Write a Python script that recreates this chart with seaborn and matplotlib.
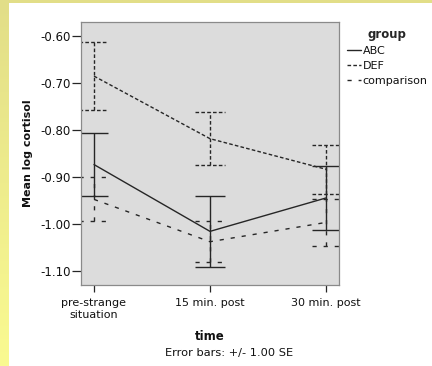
import numpy as np
import pandas as pd
import matplotlib
matplotlib.use("Agg")
import matplotlib.pyplot as plt
from matplotlib.lines import Line2D
import seaborn as sns

# ---- data ----
times = ["pre-strange\nsituation", "15 min. post", "30 min. post"]
groups = ["ABC", "DEF", "comparison"]
abc_mean = [-0.873, -1.015, -0.944]
abc_se = [0.067, 0.076, 0.068]
def_mean = [-0.685, -0.818, -0.883]
def_se = [0.072, 0.057, 0.052]
cmp_mean = [-0.947, -1.037, -0.996]
cmp_se = [0.047, 0.043, 0.050]
yticks = [-0.60, -0.70, -0.80, -0.90, -1.00, -1.10]
ytick_labels = ["-0.60", "-0.70", "-0.80", "-0.90", "-1.00", "-1.10"]

means = {"ABC": abc_mean, "DEF": def_mean, "comparison": cmp_mean}
ses = {"ABC": abc_se, "DEF": def_se, "comparison": cmp_se}

df = pd.DataFrame({
    "time": times * len(groups),
    "group": np.repeat(groups, len(times)),
    "value": abc_mean + def_mean + cmp_mean,
})

sns.set_style("white")
plt.rcParams["font.family"] = ["DejaVu Sans"]

LC = "#262626"
dash_map = {"ABC": "", "DEF": (2.6, 1.6), "comparison": (3.0, 5.0)}
ls_map = {"ABC": "solid", "DEF": (0, (2.6, 1.6)), "comparison": (0, (3.0, 5.0))}

fig = plt.figure(figsize=(4.32, 3.66), dpi=100)

# background: yellow gradient strips, white panel
bg = fig.add_axes([0, 0, 1, 1], zorder=-10)
grad = np.linspace(0, 1, 256)[:, None]
top_c = np.array([226, 222, 136]) / 255
bot_c = np.array([250, 250, 145]) / 255
img = top_c[None, None, :] * (1 - grad[:, :, None]) + bot_c[None, None, :] * grad[:, :, None]
bg.imshow(np.repeat(img, 2, axis=1), aspect="auto", extent=[0, 1, 0, 1])
bg.add_patch(plt.Rectangle((9 / 432, 0), 1, 1 - 3 / 366, color="white", lw=0))
bg.set_xlim(0, 1)
bg.set_ylim(0, 1)
bg.axis("off")

ax = fig.add_axes([81 / 432, 1 - 285 / 366, (339 - 81) / 432, (285 - 22) / 366])
ax.set_facecolor("#dcdcdc")

sns.lineplot(data=df, x="time", y="value", style="group", dashes=dash_map,
             color=LC, linewidth=1.0, legend=False, sort=False, ax=ax)

xpos = np.arange(len(times))
for g in groups:
    m = np.array(means[g])
    s = np.array(ses[g])
    ax.vlines(xpos, m - s, m + s, colors=LC, linewidth=1.0, linestyles=ls_map[g])
    for yy in (m - s, m + s):
        ax.hlines(yy, xpos - 0.125, xpos + 0.125, colors=LC, linewidth=1.0,
                  linestyles=ls_map[g])

ax.set_xlim(-0.112, 2.112)
ax.set_ylim(-1.129, -0.570)
ax.set_yticks(yticks)
ax.set_yticklabels(ytick_labels)
ax.set_xticks(xpos)
ax.set_xticklabels(times, linespacing=1.35)

for sp in ax.spines.values():
    sp.set_color("#8a8a8a")
    sp.set_linewidth(0.9)

ax.tick_params(axis="y", direction="out", length=6.5, width=0.9, color=LC,
               pad=1, labelsize=8.5, labelcolor="#111111", left=True)
ax.tick_params(axis="x", direction="out", length=5, width=0.9, color=LC,
               pad=4, labelsize=8, labelcolor="#111111", bottom=True)

ax.set_ylabel("Mean log cortisol", fontsize=8, fontweight="bold", color="#111111", labelpad=5)
ax.set_xlabel("")
fig.text(210 / 432, 1 - 336 / 366, "time", ha="center", va="center",
         fontsize=8.5, fontweight="bold", color="#111111")
fig.text(229 / 432, 1 - 353 / 366, "Error bars: +/- 1.00 SE", ha="center", va="center",
         fontsize=8.2, color="#111111")

handles = [Line2D([], [], color=LC, lw=1.0, linestyle=ls_map[g]) for g in groups]
leg = fig.legend(handles, groups, loc="upper left",
                 bbox_to_anchor=(347 / 432, 1 - 28 / 366), frameon=False,
                 title="group", title_fontproperties={"weight": "bold", "size": 8.5},
                 fontsize=8, handlelength=1.3, handletextpad=0.1,
                 labelspacing=0.45, borderpad=0, borderaxespad=0)
for t in leg.get_texts():
    t.set_color("#111111")

fig.savefig("out.png", dpi=100)
